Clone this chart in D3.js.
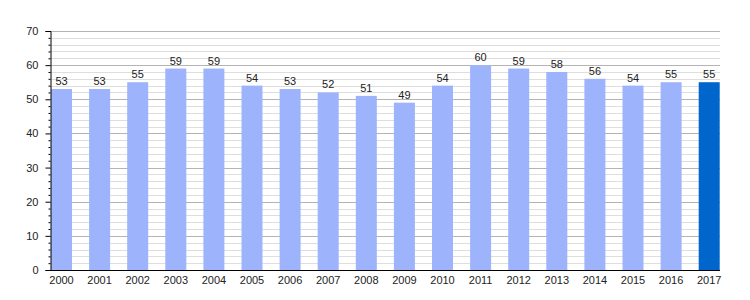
<!DOCTYPE html>
<html><head><meta charset="utf-8">
<script src="https://cdn.jsdelivr.net/npm/d3@7"></script>
<style>body{margin:0;background:#fff}svg{display:block}text{font-family:"Liberation Sans",Arial,sans-serif;font-size:11px;fill:#222}</style>
</head><body>
<svg id="c" width="750" height="300"></svg>
<script>
const years = ["2000","2001","2002","2003","2004","2005","2006","2007","2008","2009","2010","2011","2012","2013","2014","2015","2016","2017"];
const values = [53,53,55,59,59,54,53,52,51,49,54,60,59,58,56,54,55,55];
const yTicks = [0,10,20,30,40,50,60,70];

(function(){
const svg = d3.select("#c");
const mLeft = 50, mRight = 720, mTop = 31, mBottom = 270;
const step = 38.1, bw = 21;
const x = d3.scaleBand().domain(years).range([mLeft + 1, mLeft + 1 + step * (years.length - 1) + bw]).paddingInner(1 - bw / step).paddingOuter(0).align(0);
const y = d3.scaleLinear().domain([0, 70]).range([mBottom, mTop]);

// minor grid
const minor = d3.range(0, 71, 2).filter(v => v % 10 !== 0);
svg.append("g").selectAll("line").data(minor).join("line")
  .attr("x1", mLeft).attr("x2", mRight).attr("y1", d => Math.round(y(d)) + 0.5).attr("y2", d => Math.round(y(d)) + 0.5)
  .attr("stroke", "#dedede");
svg.append("g").selectAll("line").data(yTicks.filter(v => v > 0)).join("line")
  .attr("x1", mLeft).attr("x2", mRight).attr("y1", d => Math.round(y(d)) + 0.5).attr("y2", d => Math.round(y(d)) + 0.5)
  .attr("stroke", "#b4b4b4");

// bars
svg.append("g").selectAll("rect").data(values).join("rect")
  .attr("x", (d, i) => x(years[i]))
  .attr("width", x.bandwidth())
  .attr("y", d => y(d))
  .attr("height", d => mBottom - y(d))
  .attr("fill", (d, i) => i === years.length - 1 ? "#0066cc" : "#9db3fc");

// value labels
svg.append("g").selectAll("text").data(values).join("text")
  .attr("x", (d, i) => x(years[i]) + x.bandwidth() / 2)
  .attr("y", d => y(d) - 4)
  .attr("text-anchor", "middle")
  .text(d => d);

// y axis
const yAxis = d3.axisLeft(y).tickValues(yTicks).tickSize(5).tickPadding(7);
const gy = svg.append("g").attr("transform", `translate(${mLeft + 0.5},0)`).call(yAxis);
gy.select(".domain").attr("stroke", "#000");
gy.selectAll(".tick line").attr("stroke", "#000");
gy.selectAll(".tick text").style("font-family", '"Liberation Sans",Arial,sans-serif').style("font-size", "11px").attr("fill", "#222");
const gym = svg.append("g").attr("transform", `translate(${mLeft + 0.5},0)`)
  .call(d3.axisLeft(y).tickValues(minor).tickSize(2).tickFormat(""));
gym.select(".domain").remove();
gym.selectAll(".tick line").attr("stroke", "#000");

// x axis
const gx = svg.append("g").attr("transform", `translate(0,${mBottom + 0.5})`)
  .call(d3.axisBottom(x).tickSize(0).tickPadding(6));
gx.select(".domain").attr("d", `M${mLeft},0H${mRight}`).attr("stroke", "#000");
gx.selectAll(".tick text").style("font-family", '"Liberation Sans",Arial,sans-serif').style("font-size", "11px").attr("fill", "#222");
})();
</script>
</body></html>
